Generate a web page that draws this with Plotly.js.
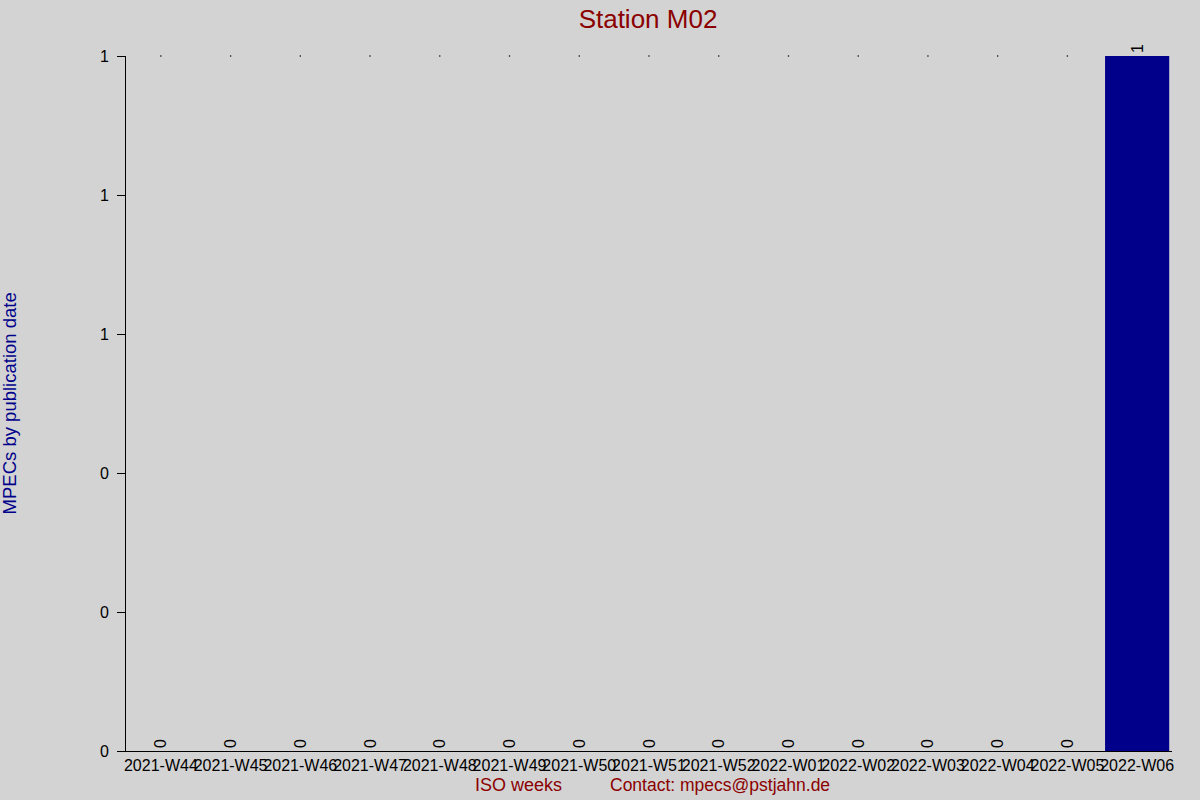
<!DOCTYPE html>
<html>
<head>
<meta charset="utf-8">
<script src="https://cdn.plot.ly/plotly-3.0.1.min.js"></script>
<style>
  body { margin: 0; background: #d3d3d3; }
  #chart { width: 1200px; height: 800px; }
</style>
</head>
<body>
<div id="chart"></div>
<script>
// ISO weeks and MPEC counts for station M02
var weeks = ["2021-W44", "2021-W45", "2021-W46", "2021-W47", "2021-W48",
             "2021-W49", "2021-W50", "2021-W51", "2021-W52", "2022-W01",
             "2022-W02", "2022-W03", "2022-W04", "2022-W05", "2022-W06"];
var counts = [0, 0, 0, 0, 0, 0, 0, 0, 0, 0, 0, 0, 0, 0, 1];

var maxCount = Math.max.apply(null, counts);

// tiny dots at the top for empty weeks, like the original
var dotX = [];
var dotY = [];
weeks.forEach(function(w, i) {
    if (counts[i] < maxCount) {
        dotX.push(w);
        dotY.push(maxCount);
    }
});

var font = "Liberation Sans, Arial, sans-serif";

var bars = {
    type: "bar",
    x: weeks,
    y: counts,
    marker: {color: "#00008b"},
    text: counts.map(String),
    textposition: "outside",
    textangle: -90,
    textfont: {family: font, size: 16, color: "#000"},
    cliponaxis: false,
    hoverinfo: "x+y"
};

var dots = {
    type: "scatter",
    mode: "markers",
    x: dotX,
    y: dotY,
    marker: {color: "#000", size: 1.5},
    hoverinfo: "skip",
    cliponaxis: false
};

var layout = {
    width: 1200,
    height: 800,
    paper_bgcolor: "#d3d3d3",
    plot_bgcolor: "#d3d3d3",
    showlegend: false,
    bargap: 0.08,
    margin: {l: 126, r: 28, t: 56, b: 49},
    font: {family: font, size: 16, color: "#000"},
    title: {
        text: "Station M02",
        font: {family: font, size: 26, color: "#8b0000"},
        x: 0.54, xanchor: "center",
        y: 0.977, yanchor: "middle"
    },
    xaxis: {
        range: [-0.5, weeks.length - 0.5],
        showline: true,
        linecolor: "#000",
        linewidth: 1,
        showgrid: false,
        zeroline: false,
        ticks: "",
        tickangle: 0,
        tickfont: {family: font, size: 16, color: "#000"},
        fixedrange: true
    },
    yaxis: {
        range: [0, maxCount],
        dtick: maxCount / 5,
        tick0: 0,
        tickformat: ".0f",
        showline: true,
        linecolor: "#000",
        linewidth: 1,
        ticks: "outside",
        ticklen: 8,
        tickcolor: "#000",
        ticklabelstandoff: 5,
        showgrid: false,
        zeroline: false,
        tickfont: {family: font, size: 16, color: "#000"},
        fixedrange: true
    },
    annotations: [
        {
            text: "ISO weeks",
            xref: "paper", yref: "paper",
            x: 0.375, y: -0.049,
            xanchor: "center", yanchor: "middle",
            showarrow: false,
            font: {family: font, size: 18, color: "#8b0000"}
        },
        {
            text: "Contact: mpecs@pstjahn.de",
            xref: "paper", yref: "paper",
            x: 0.568, y: -0.049,
            xanchor: "center", yanchor: "middle",
            showarrow: false,
            font: {family: font, size: 17.5, color: "#8b0000"}
        },
        {
            text: "MPECs by publication date",
            xref: "paper", yref: "paper",
            x: -0.111, y: 0.5,
            xanchor: "center", yanchor: "middle",
            textangle: -90,
            showarrow: false,
            font: {family: font, size: 18.5, color: "#00008b"}
        }
    ]
};

Plotly.newPlot("chart", [bars, dots], layout, {displayModeBar: false, staticPlot: true});
</script>
</body>
</html>
